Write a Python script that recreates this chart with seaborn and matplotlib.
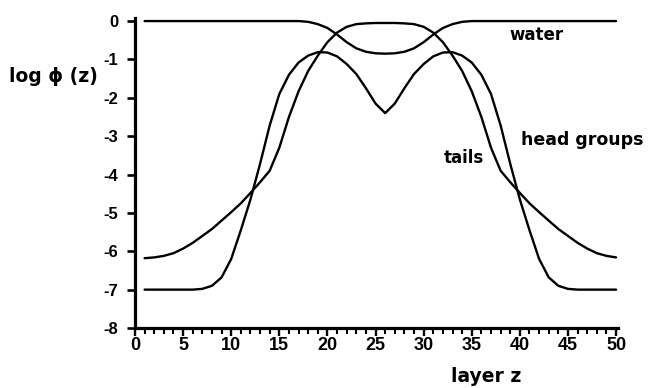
import numpy as np
import pandas as pd
import matplotlib
matplotlib.use("Agg")
import matplotlib.pyplot as plt
from matplotlib.ticker import MultipleLocator
import seaborn as sns

# ---- data (profiles are symmetric about layer 26) ----
layers = list(range(1, 51))
water_half = [0.0, 0.0, 0.0, 0.0, 0.0, 0.0, 0.0, 0.0, 0.0, 0.0,
              0.0, 0.0, 0.0, 0.0, 0.0, 0.0, 0.0, -0.02, -0.08, -0.18,
              -0.35, -0.55, -0.71, -0.8, -0.84, -0.85]
heads_half = [-7.0, -7.0, -7.0, -7.0, -7.0, -7.0, -6.98, -6.9, -6.68, -6.2,
              -5.45, -4.65, -3.72, -2.72, -1.9, -1.4, -1.08, -0.9, -0.81, -0.82,
              -0.92, -1.12, -1.38, -1.75, -2.15, -2.4]
tails_half = [-6.18, -6.16, -6.12, -6.05, -5.93, -5.78, -5.6, -5.42, -5.2, -4.98,
              -4.75, -4.48, -4.2, -3.9, -3.3, -2.5, -1.83, -1.3, -0.9, -0.55,
              -0.3, -0.15, -0.08, -0.06, -0.05, -0.05]
# layers 27..50 mirror layers 25..2
water = water_half + water_half[24:0:-1]
heads = heads_half + heads_half[24:0:-1]
tails = tails_half + tails_half[24:0:-1]

x_ticks = [0, 5, 10, 15, 20, 25, 30, 35, 40, 45, 50]
y_ticks = [0, -1, -2, -3, -4, -5, -6, -7, -8]
y_ticklabels = ["0", "-1", "-2", "-3", "-4", "-5", "-6", "-7", "-8"]

df = pd.DataFrame({
    "z": layers * 3,
    "logphi": water + heads + tails,
    "species": ["water"] * 50 + ["head groups"] * 50 + ["tails"] * 50,
})

sns.set_style("ticks")
plt.rcParams["font.family"] = ["DejaVu Sans"]
plt.rcParams["axes.unicode_minus"] = False
plt.rcParams["text.color"] = "black"
tickfont = "Liberation Sans"

fig = plt.figure(figsize=(6.5, 3.88), dpi=100)
ax = fig.add_axes([135 / 650, 60 / 388, 483 / 650, 310 / 388])

sns.lineplot(data=df, x="z", y="logphi", hue="species",
             palette={"water": "black", "head groups": "black", "tails": "black"},
             linewidth=1.7, legend=False, ax=ax, sort=False, estimator=None)

ax.set_xlim(0, 50.2)
ax.set_ylim(-8, 0.08)
ax.set_xlabel("")
ax.set_ylabel("")

for s in ["top", "right"]:
    ax.spines[s].set_visible(False)
for s in ["left", "bottom"]:
    ax.spines[s].set_linewidth(2.3)
    ax.spines[s].set_color("black")

ax.set_xticks(x_ticks)
ax.set_xticklabels([str(t) for t in x_ticks], fontfamily=tickfont,
                   fontweight="bold", fontsize=13)
ax.xaxis.set_minor_locator(MultipleLocator(1))
ax.set_yticks(y_ticks)
ax.set_yticklabels(y_ticklabels, fontfamily=tickfont, fontweight="bold",
                   fontsize=12)

ax.tick_params(axis="x", which="major", direction="out", length=5.5, width=1.7,
               pad=1, colors="black")
ax.tick_params(axis="x", which="minor", direction="out", length=4, width=1.5,
               colors="black")
ax.tick_params(axis="y", which="major", direction="out", length=6, width=1.9,
               pad=6, colors="black")

ax.text(41.7, -0.36, "water", ha="center", va="center", fontsize=12,
        fontweight="bold", color="black")
ax.text(46.5, -3.1, "head groups", ha="center", va="center", fontsize=12.5,
        fontweight="bold", clip_on=False, color="black")
ax.text(34.2, -3.57, "tails", ha="center", va="center", fontsize=12,
        fontweight="bold", color="black")

fig.text(53 / 650, 1 - 77 / 388, "log \u03d5 (z)", ha="center", va="center",
         fontsize=13.5, fontweight="bold", color="black")
fig.text(486 / 650, 1 - 377 / 388, "layer z", ha="center", va="center",
         fontsize=13.5, fontweight="bold", color="black")

fig.savefig("out.png", dpi=100)
